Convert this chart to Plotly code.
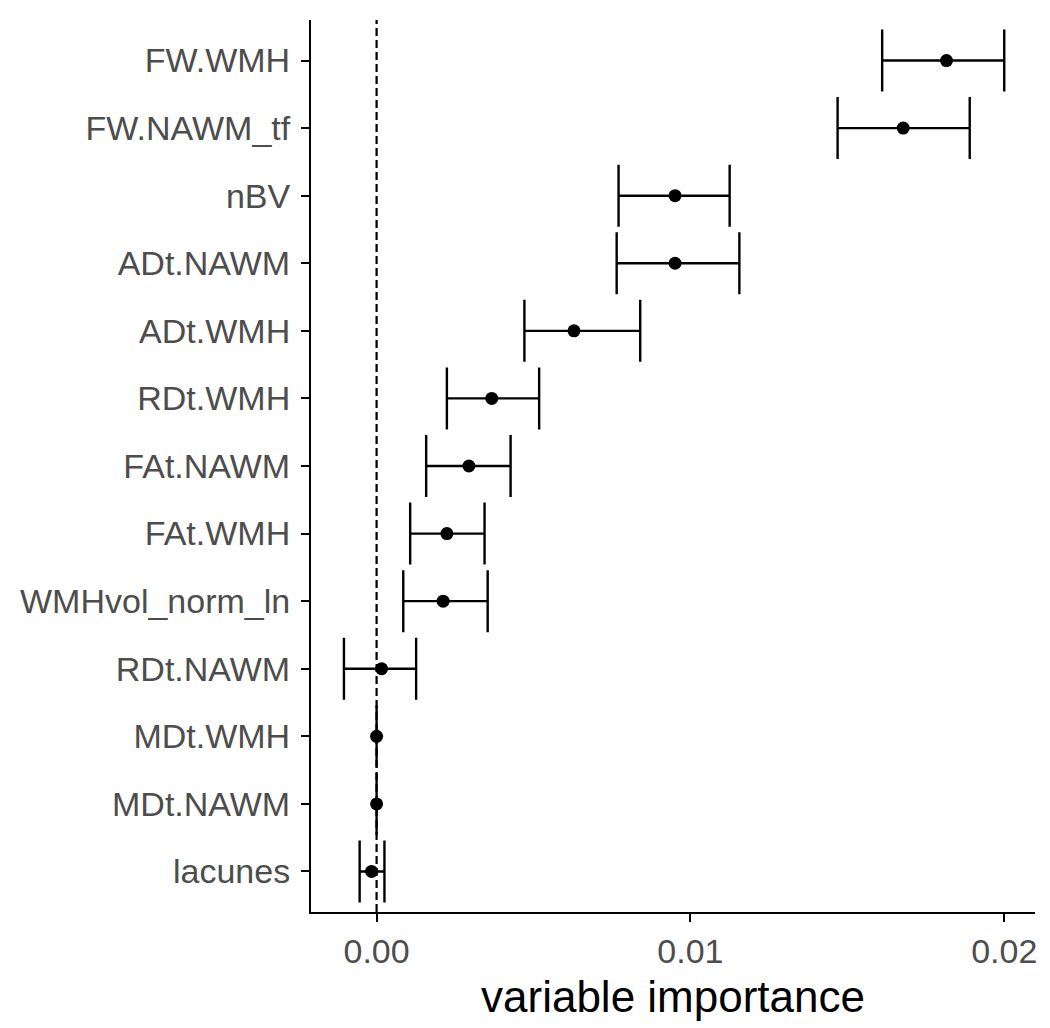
import plotly.graph_objects as go

# variable importance estimates with lower / upper bounds
variables = ['FW.WMH', 'FW.NAWM_tf', 'nBV', 'ADt.NAWM', 'ADt.WMH', 'RDt.WMH',
             'FAt.NAWM', 'FAt.WMH', 'WMHvol_norm_ln', 'RDt.NAWM', 'MDt.WMH',
             'MDt.NAWM', 'lacunes']
importance = [0.01816, 0.01678, 0.00951, 0.00951, 0.00629, 0.00367,
              0.00294, 0.00224, 0.00212, 0.00016, 0.0, 0.0, -0.00016]
lower = [0.01611, 0.01469, 0.00771, 0.00765, 0.00471, 0.00224,
         0.00158, 0.00107, 0.00085, -0.00104, 0.0, 0.0, -0.00054]
upper = [0.02000, 0.01890, 0.01125, 0.01156, 0.00840, 0.00518,
         0.00427, 0.00344, 0.00354, 0.00126, 0.0, 0.0, 0.00025]
x_ticks = [0.0, 0.01, 0.02]
x_tick_labels = ['0.00', '0.01', '0.02']

err_plus = [u - v for u, v in zip(upper, importance)]
err_minus = [v - l for v, l in zip(importance, lower)]

fig = go.Figure()

# reference line at zero
fig.add_shape(type='line', x0=0, x1=0, xref='x', y0=0, y1=1, yref='paper',
              line=dict(color='black', width=2.2, dash='8px,4px'), layer='below')

fig.add_trace(go.Scatter(
    x=importance,
    y=variables,
    mode='markers',
    marker=dict(color='black', size=13),
    error_x=dict(type='data', symmetric=False, array=err_plus, arrayminus=err_minus,
                 color='black', thickness=2.4, width=31),
    showlegend=False
))

fig.update_layout(
    width=1050, height=1028,
    plot_bgcolor='white', paper_bgcolor='white',
    margin=dict(l=293, r=23, t=12, b=124),
    font=dict(family='Liberation Sans, Arial, sans-serif'),
    xaxis=dict(
        range=[-0.00209, 0.02098],
        tickvals=x_ticks, ticktext=x_tick_labels,
        showgrid=False, zeroline=False,
        showline=True, linecolor='black', linewidth=2,
        ticks='outside', ticklen=8, tickwidth=2, tickcolor='black',
        tickfont=dict(size=34, color='#4D4D4D'),
        title=dict(text='variable importance', font=dict(size=44, color='black'), standoff=12),
    ),
    yaxis=dict(
        type='category',
        categoryorder='array', categoryarray=variables,
        range=[len(variables) - 0.4, -0.6],
        showgrid=False, zeroline=False,
        showline=True, linecolor='black', linewidth=2,
        ticks='outside', ticklen=8, tickwidth=2, tickcolor='black',
        tickfont=dict(size=34, color='#4D4D4D'),
        ticklabelstandoff=4,
    ),
)

fig.write_html("out.html")
